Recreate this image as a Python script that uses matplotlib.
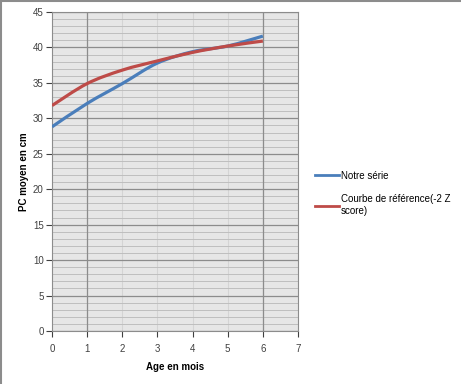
import matplotlib.pyplot as plt
import numpy as np
from matplotlib.path import Path
from matplotlib.patches import PathPatch
from matplotlib.lines import Line2D

# data
ages = [0, 1, 2, 3, 4, 5, 6]
notre_serie = [28.8, 32.1, 34.9, 37.8, 39.4, 40.2, 41.6]
reference = [31.8, 34.9, 36.8, 38.1, 39.3, 40.2, 40.9]

plt.rcParams['font.family'] = ['Liberation Sans', 'DejaVu Sans']

fig = plt.figure(figsize=(4.61, 3.84), dpi=100)
ax = fig.add_axes([52 / 461, 53 / 384, 246 / 461, 319 / 384])
ax.set_facecolor('#e6e6e6')


def smooth_path(x, y):
    # Excel style smoothed line: catmull-rom segments drawn as bezier curves
    x = np.asarray(x, float)
    y = np.asarray(y, float)
    verts = [(x[0], y[0])]
    codes = [Path.MOVETO]
    n = len(x)
    for i in range(n - 1):
        p0 = (x[max(i - 1, 0)], y[max(i - 1, 0)])
        p1 = (x[i], y[i])
        p2 = (x[i + 1], y[i + 1])
        p3 = (x[min(i + 2, n - 1)], y[min(i + 2, n - 1)])
        c1 = (p1[0] + (p2[0] - p0[0]) / 6, p1[1] + (p2[1] - p0[1]) / 6)
        c2 = (p2[0] - (p3[0] - p1[0]) / 6, p2[1] - (p3[1] - p1[1]) / 6)
        verts += [c1, c2, p2]
        codes += [Path.CURVE4] * 3
    return Path(verts, codes)


blue = '#4a7ebb'
red = '#be4b48'
ax.add_patch(PathPatch(smooth_path(ages, notre_serie), facecolor='none',
                       edgecolor=blue, lw=2.3, zorder=3, capstyle='butt'))
ax.add_patch(PathPatch(smooth_path(ages, reference), facecolor='none',
                       edgecolor=red, lw=2.3, zorder=4, capstyle='butt'))

ax.set_xlim(0, 7)
ax.set_ylim(0, 45)
ax.set_xticks(range(0, 8))
ax.set_yticks(range(0, 46, 5))
ax.set_yticks(range(0, 46), minor=True)

# gridlines
ax.grid(axis='y', which='minor', color='#bebebe', lw=0.7)
ax.grid(axis='y', which='major', color='#8c8c8c', lw=0.9)
ax.grid(axis='x', which='major', color='#d4d4d4', lw=0.8)
for xv in [1, 6]:
    ax.axvline(xv, color='#8c8c8c', lw=0.9, zorder=1)
ax.set_axisbelow(True)

for s in ax.spines.values():
    s.set_color('#8c8c8c')
    s.set_linewidth(0.8)

ax.tick_params(axis='both', which='major', labelsize=7, colors='#404040',
               length=4, width=0.8, direction='out')
ax.tick_params(axis='y', which='minor', length=0)
ax.tick_params(axis='x', pad=5)
ax.tick_params(axis='y', pad=2)
for t in ax.get_xticklines() + ax.get_yticklines():
    t.set_color('#8c8c8c')

ax.set_xlabel('Age en mois', fontsize=7, fontweight='bold', labelpad=6)
ax.set_ylabel('PC moyen en cm', fontsize=7, fontweight='bold', labelpad=3)

handles = [Line2D([], [], color=blue, lw=2), Line2D([], [], color=red, lw=2)]
fig.legend(handles, ['Notre série', 'Courbe de référence(-2 Z\nscore)'],
           loc='upper left', bbox_to_anchor=(306 / 461, 1 - 162 / 384),
           frameon=False, fontsize=7, handlelength=2.5, handletextpad=0.2,
           labelspacing=1.4)

# outer chart border (left and top edges visible)
fig.add_artist(Line2D([0.002, 0.002], [0, 1], color='#8c8c8c', lw=1.5))
fig.add_artist(Line2D([0, 1], [0.997, 0.997], color='#8c8c8c', lw=1.5))

fig.savefig('out.png', dpi=100)
